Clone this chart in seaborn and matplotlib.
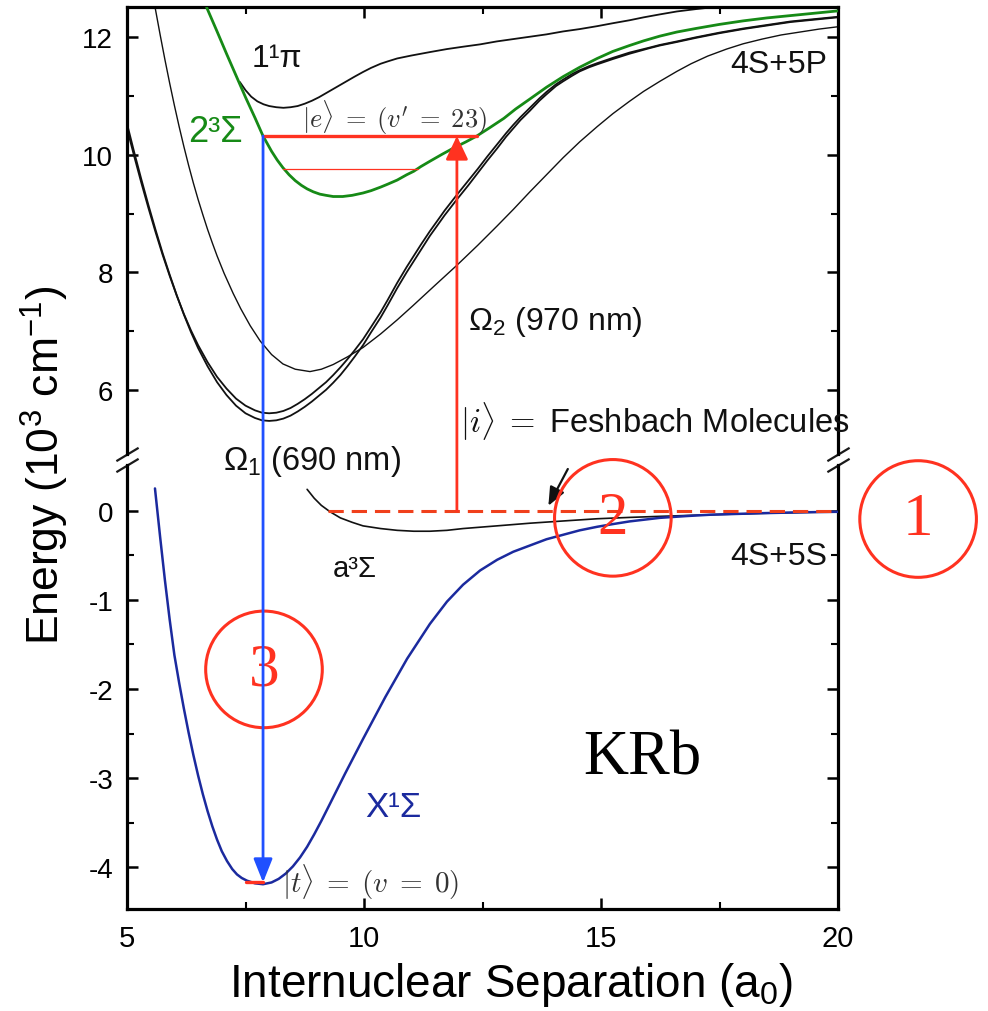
import matplotlib
matplotlib.use("Agg")
import matplotlib.pyplot as plt
from matplotlib.patches import ConnectionPatch
import seaborn as sns

# ---------------- potential curves (R in a0, energy in 10^3 cm^-1) ----------------
# upper panel: excited-state potentials
r_pi = [7.38, 7.50, 7.62, 7.75, 7.88, 8.00, 8.15, 8.30, 8.45, 8.60, 8.75, 8.90, 9.05, 9.20,
        9.35, 9.50, 9.65, 9.80, 9.98, 10.15, 10.35, 10.50, 10.70, 11.00, 11.40, 11.75, 12.09,
        12.45, 12.80, 13.15, 13.50, 13.85, 14.20, 14.55, 14.92, 15.25, 15.60, 15.90, 16.24,
        16.60, 17.00, 17.45, 18.00]
e_pi = [11.24, 11.10, 10.99, 10.91, 10.86, 10.83, 10.81, 10.80, 10.81, 10.83, 10.87, 10.92, 10.98, 11.05,
        11.12, 11.19, 11.26, 11.33, 11.41, 11.48, 11.55, 11.59, 11.64, 11.69, 11.75, 11.80, 11.84,
        11.88, 11.93, 11.97, 12.01, 12.05, 12.10, 12.14, 12.19, 12.24, 12.29, 12.34, 12.39,
        12.44, 12.48, 12.52, 12.56]

r_sig23 = [6.68, 6.90, 7.10, 7.30, 7.50, 7.70, 7.87, 8.05, 8.17, 8.29, 8.42, 8.55, 8.68, 8.80,
           8.93, 9.07, 9.20, 9.35, 9.55, 9.75, 9.98, 10.15, 10.35, 10.50, 10.70, 10.90, 11.05,
           11.20, 11.39, 11.65, 11.90, 12.15, 12.38, 12.65, 12.95, 13.20, 13.50, 13.85, 14.20,
           14.55, 14.92, 15.25, 15.60, 15.90, 16.24, 16.60, 17.00, 17.50, 18.00, 18.50, 19.00,
           19.50, 20.00]
e_sig23 = [12.51, 12.10, 11.72, 11.35, 10.98, 10.63, 10.32, 10.06, 9.91, 9.78, 9.66, 9.56, 9.48, 9.42,
           9.37, 9.33, 9.31, 9.29, 9.29, 9.31, 9.35, 9.39, 9.45, 9.50, 9.57, 9.66, 9.72,
           9.80, 9.89, 10.01, 10.12, 10.22, 10.32, 10.46, 10.62, 10.78, 10.95, 11.15, 11.33,
           11.49, 11.64, 11.76, 11.86, 11.94, 12.02, 12.09, 12.15, 12.22, 12.28, 12.33, 12.37,
           12.41, 12.45]

r_thin = [5.55, 5.59, 5.70, 5.80, 5.90, 6.00, 6.10, 6.20, 6.30, 6.40, 6.50, 6.60, 6.70, 6.80,
          6.90, 7.05, 7.24, 7.40, 7.60, 7.81, 8.05, 8.29, 8.55, 8.86, 9.10, 9.35, 9.65, 9.98,
          10.35, 10.70, 11.03, 11.50, 11.96, 12.40, 12.81, 13.15, 13.50, 13.85, 14.20, 14.55,
          14.92, 15.25, 15.60, 15.90, 16.24, 16.60, 16.90, 17.25, 17.65, 18.00, 18.40, 18.80,
          19.20, 19.60, 20.00]
e_thin = [12.70, 12.52, 12.04, 11.62, 11.22, 10.84, 10.48, 10.14, 9.82, 9.52, 9.24, 8.98, 8.73, 8.50,
          8.28, 7.98, 7.64, 7.38, 7.09, 6.83, 6.60, 6.44, 6.35, 6.31, 6.35, 6.43, 6.56, 6.72,
          6.95, 7.19, 7.43, 7.78, 8.12, 8.46, 8.79, 9.07, 9.37, 9.66, 9.95, 10.22,
          10.48, 10.70, 10.91, 11.08, 11.25, 11.42, 11.55, 11.68, 11.80, 11.89, 11.97, 12.04,
          12.09, 12.14, 12.18]

r_pair = [5.00, 5.15, 5.30, 5.45, 5.60, 5.75, 5.90, 6.05, 6.20, 6.35, 6.50, 6.70, 6.90, 7.10,
          7.30, 7.50, 7.70, 7.85, 8.00, 8.15, 8.30, 8.45, 8.60, 8.75, 8.90, 9.05, 9.20, 9.35,
          9.50, 9.65, 9.80, 9.98, 10.15, 10.35, 10.50, 10.70, 10.90, 11.05, 11.20, 11.39, 11.55,
          11.70, 11.96, 12.20, 12.40, 12.60, 12.81, 13.00, 13.15, 13.30, 13.50, 13.70, 13.85,
          14.05, 14.20, 14.40, 14.55, 14.75, 14.92, 15.25, 15.60, 16.00, 16.24, 16.60, 17.00,
          17.50, 18.00, 18.50, 19.00, 19.50, 20.00]
e_pair_a = [10.45, 9.98, 9.53, 9.10, 8.69, 8.30, 7.94, 7.60, 7.29, 7.01, 6.76, 6.47, 6.22, 6.02,
            5.85, 5.73, 5.65, 5.61, 5.60, 5.61, 5.64, 5.69, 5.76, 5.84, 5.93, 6.03, 6.13, 6.25,
            6.38, 6.52, 6.67, 6.86, 7.07, 7.32, 7.53, 7.82, 8.09, 8.28, 8.47, 8.70, 8.88,
            9.05, 9.32, 9.56, 9.76, 9.97, 10.18, 10.37, 10.51, 10.64, 10.80, 10.96, 11.07,
            11.20, 11.28, 11.38, 11.44, 11.51, 11.56, 11.65, 11.74, 11.82, 11.87, 11.93, 12.00,
            12.08, 12.15, 12.21, 12.27, 12.31, 12.35]
e_pair_b = [10.53, 10.05, 9.59, 9.15, 8.73, 8.33, 7.96, 7.61, 7.28, 6.98, 6.71, 6.40, 6.13, 5.91,
            5.73, 5.60, 5.52, 5.48, 5.47, 5.48, 5.51, 5.56, 5.63, 5.71, 5.80, 5.90, 6.00, 6.12,
            6.25, 6.40, 6.56, 6.76, 6.98, 7.23, 7.44, 7.73, 8.00, 8.19, 8.38, 8.62, 8.80,
            8.97, 9.24, 9.48, 9.69, 9.90, 10.11, 10.31, 10.45, 10.59, 10.75, 10.92, 11.03,
            11.17, 11.25, 11.35, 11.42, 11.49, 11.54, 11.63, 11.72, 11.81, 11.86, 11.92, 11.99,
            12.07, 12.14, 12.20, 12.26, 12.30, 12.34]

# lower panel: ground-state potentials
r_x = [5.59, 5.70, 5.80, 5.90, 6.00, 6.10, 6.20, 6.30, 6.40, 6.50, 6.60, 6.70, 6.80, 6.90,
       7.00, 7.11, 7.22, 7.32, 7.42, 7.53, 7.70, 7.87, 8.05, 8.20, 8.35, 8.50, 8.65, 8.80,
       8.95, 9.10, 9.28, 9.60, 9.98, 10.45, 10.91, 11.39, 11.75, 12.09, 12.45, 12.81, 13.15,
       13.50, 13.85, 14.20, 14.55, 14.92, 15.25, 15.60, 16.24, 16.80, 17.30, 18.35, 19.20, 20.00]
e_x = [0.25, -0.30, -0.78, -1.22, -1.62, -1.93, -2.22, -2.49, -2.74, -2.97, -3.18, -3.37, -3.54, -3.69,
       -3.82, -3.93, -4.02, -4.08, -4.12, -4.15, -4.18, -4.19, -4.17, -4.13, -4.07, -3.99, -3.89, -3.77,
       -3.63, -3.48, -3.29, -2.95, -2.56, -2.09, -1.66, -1.27, -1.02, -0.83, -0.67, -0.55, -0.46,
       -0.39, -0.32, -0.27, -0.22, -0.18, -0.15, -0.12, -0.08, -0.06, -0.045, -0.028, -0.018, -0.012]

r_a = [8.80, 8.95, 9.10, 9.28, 9.50, 9.75, 9.98, 10.35, 10.70, 11.05, 11.39, 11.75, 12.09, 12.80,
       13.50, 14.20, 14.92, 15.60, 16.24, 17.30, 18.35, 19.20, 20.00]
e_a = [0.24, 0.14, 0.06, -0.01, -0.08, -0.13, -0.17, -0.20, -0.22, -0.23, -0.23, -0.22, -0.20, -0.17,
       -0.14, -0.115, -0.09, -0.075, -0.063, -0.045, -0.03, -0.02, -0.012]

# ---------------- levels and transitions ----------------
e_excited = 10.32            # |e> = (v' = 23)
r_excited = [7.87, 12.38]
e_lower_vib = 9.76           # neighbouring vibrational level
r_lower_vib = [8.29, 11.14]
e_feshbach = 0.0             # |i> Feshbach molecules
r_feshbach = [9.24, 20.0]
e_ground = -4.17             # |t> = (v = 0)
r_ground = [7.50, 7.87]
r_omega1 = 7.87              # 690 nm leg
r_omega2 = 11.96             # 970 nm leg

upper_ticks = [6, 8, 10, 12]
upper_minor = [7, 9, 11]
lower_ticks = [0, -1, -2, -3, -4]
lower_minor = [-0.5, -1.5, -2.5, -3.5]
x_ticks = [5, 10, 15, 20]
x_minor = [7.5, 12.5, 17.5]

# ---------------- style ----------------
sns.set_theme(style="ticks")
plt.rcParams["font.family"] = ["Liberation Sans", "DejaVu Sans"]
plt.rcParams["mathtext.fontset"] = "custom"
plt.rcParams["mathtext.rm"] = "Liberation Sans"
plt.rcParams["mathtext.it"] = "Liberation Sans:italic"
plt.rcParams["mathtext.bf"] = "Liberation Sans:bold"
plt.rcParams["mathtext.sf"] = "Liberation Sans"
plt.rcParams["axes.unicode_minus"] = False
for key in ("text.color", "axes.labelcolor", "xtick.color", "ytick.color",
            "xtick.labelcolor", "ytick.labelcolor"):
    plt.rcParams[key] = "black"

BLACK = "#111111"
GREEN = "#168a16"
NAVY = "#1b2a9e"
BLUE = "#2050ff"
RED = "#ff3220"
DASHRED = "#f0401c"
GREY = "#333333"

W, H = 988, 1012
fig = plt.figure(figsize=(W / 100, H / 100), dpi=100)
left, right = 127 / W, 838 / W
ax_top = fig.add_axes([left, 1 - 455 / H, right - left, (455 - 8) / H])
ax_bot = fig.add_axes([left, 1 - 910 / H, right - left, (910 - 466) / H])

ax_top.set_xlim(5, 20)
ax_bot.set_xlim(5, 20)
ax_top.set_ylim(4.907, 12.516)
ax_bot.set_ylim(-4.468, 0.513)


def curve(ax, r, e, color, lw, z=2):
    sns.lineplot(x=r, y=e, ax=ax, color=color, linewidth=lw, sort=False,
                 estimator=None, zorder=z)


curve(ax_top, r_pair, e_pair_a, BLACK, 1.3)
curve(ax_top, r_pair, e_pair_b, BLACK, 1.3)
curve(ax_top, r_thin, e_thin, BLACK, 1.0)
curve(ax_top, r_pi, e_pi, BLACK, 1.3)
curve(ax_top, r_sig23, e_sig23, GREEN, 2.0, z=3)
curve(ax_bot, r_a, e_a, BLACK, 1.2)
curve(ax_bot, r_x, e_x, NAVY, 1.8, z=3)
for ax in (ax_top, ax_bot):
    for ln in ax.lines:
        ln.set_solid_joinstyle("round")

# vibrational levels
sns.lineplot(x=r_excited, y=[e_excited] * 2, ax=ax_top, color=RED, linewidth=2.4, zorder=4)
sns.lineplot(x=r_lower_vib, y=[e_lower_vib] * 2, ax=ax_top, color=RED, linewidth=0.9, zorder=4)
sns.lineplot(x=r_ground, y=[e_ground] * 2, ax=ax_bot, color=RED, linewidth=2.4, zorder=4)
feshbach = sns.lineplot(x=r_feshbach, y=[e_feshbach] * 2, ax=ax_bot, color=DASHRED,
                        linewidth=2.2, zorder=4)
feshbach.lines[-1].set_dashes((5, 2.6))

# transitions crossing the axis break
down = ConnectionPatch(xyA=(r_omega1, e_excited), coordsA=ax_top.transData,
                       xyB=(r_omega1, e_ground), coordsB=ax_bot.transData,
                       arrowstyle="-|>,head_length=0.8,head_width=0.32", mutation_scale=18,
                       color=BLUE, lw=2.0, shrinkA=0, shrinkB=0, zorder=5)
fig.add_artist(down)
up = ConnectionPatch(xyA=(r_omega2, e_feshbach), coordsA=ax_bot.transData,
                     xyB=(r_omega2, e_excited), coordsB=ax_top.transData,
                     arrowstyle="-|>,head_length=0.8,head_width=0.38", mutation_scale=18,
                     color=RED, lw=2.0, shrinkA=0, shrinkB=0, zorder=5)
fig.add_artist(up)

# pointer to the Feshbach level
ax_bot.annotate("", xy=(13.89, 0.056), xytext=(14.30, 0.468),
                arrowprops=dict(arrowstyle="-|>,head_length=0.7,head_width=0.3",
                                mutation_scale=16, color=BLACK, lw=1.6, shrinkA=0, shrinkB=0))

# ---------------- axes decoration ----------------
for ax in (ax_top, ax_bot):
    for s in ax.spines.values():
        s.set_linewidth(2.3)
        s.set_color("black")
    ax.set_xticks(x_ticks)
    ax.set_xticks(x_minor, minor=True)
    ax.tick_params(which="both", direction="in", left=True, right=True, color="black")
    ax.tick_params(which="major", length=8, width=1.8)
    ax.tick_params(which="minor", length=5, width=1.5)
    ax.set_xlabel("")
    ax.set_ylabel("")

ax_top.spines["bottom"].set_visible(False)
ax_bot.spines["top"].set_visible(False)
ax_top.tick_params(which="both", bottom=False, labelbottom=False, top=True)
ax_bot.tick_params(which="both", top=False)

ax_top.set_yticks(upper_ticks)
ax_top.set_yticks(upper_minor, minor=True)
ax_bot.set_yticks(lower_ticks)
ax_bot.set_yticks(lower_minor, minor=True)
ax_top.tick_params(axis="y", labelsize=20, pad=10)
ax_bot.tick_params(axis="y", labelsize=20, pad=10)
ax_bot.tick_params(axis="x", labelsize=21, pad=11)

# break marks
brk = dict(marker=[(-1, -0.6), (1, 0.6)], markersize=16, linestyle="none",
           color="k", mec="k", mew=1.6, clip_on=False)
ax_top.plot([0, 1], [0, 0], transform=ax_top.transAxes, **brk)
ax_bot.plot([0, 1], [1, 1], transform=ax_bot.transAxes, **brk)

fig.text(45 / W, 1 - 465 / H, r"Energy (10$^{3}$ cm$^{-1}$)", rotation=90,
         ha="center", va="center", fontsize=32)
fig.text(511 / W, 1 - 997 / H, r"Internuclear Separation (a$_{0}$)",
         ha="center", va="baseline", fontsize=33)

# ---------------- state labels ----------------
ax_top.text(7.62, 11.51, "1¹π", fontsize=23, color=BLACK, va="baseline")
ax_top.text(6.29, 10.24, "2³Σ", fontsize=26, color=GREEN, va="baseline")
ax_top.text(8.69, 10.47, r"$|e\rangle \;=\; (v^{\prime} \;=\; 23)$", math_fontfamily="cm",
            fontsize=19, color=GREY, va="baseline")
ax_top.text(19.77, 11.41, "4S+5P", fontsize=23, color=BLACK, ha="right", va="baseline")
ax_top.text(12.19, 7.04, r"$\Omega_{2}$ (970 nm)", fontsize=23, color=BLACK, va="baseline")
ax_top.text(12.03, 5.28, r"$|i\rangle\;=$ Feshbach Molecules", math_fontfamily="cm",
            fontsize=23.5, color=BLACK, va="baseline", clip_on=False)
ax_bot.text(7.03, 0.47, r"$\Omega_{1}$ (690 nm)", fontsize=23.5, color=BLACK, va="baseline")
ax_bot.text(9.35, -0.73, "a³Σ", fontsize=21, color=BLACK, va="baseline")
ax_bot.text(19.77, -0.60, "4S+5S", fontsize=23, color=BLACK, ha="right", va="baseline")
ax_bot.text(10.02, -3.42, "X¹Σ", fontsize=25, color=NAVY, va="baseline")
ax_bot.text(8.27, -4.28, r"$|t\rangle \;=\; (v \;=\; 0)$", math_fontfamily="cm",
            fontsize=21, color=GREY, va="baseline")
ax_bot.text(14.62, -2.95, "KRb", fontsize=45, color="black", va="baseline",
            family="Liberation Serif")

# numbered steps
steps = [("1", 21.69, -0.093), ("2", 15.25, -0.08), ("3", 7.89, -1.78)]
for label, sx, sy in steps:
    ax_bot.text(sx, sy, label, fontsize=44, color=RED, family="Liberation Serif",
                ha="center", va="center", clip_on=False, zorder=6,
                bbox=dict(boxstyle="circle,pad=0.5", fc="none", ec=RED, lw=2.2))

fig.savefig("out.png", dpi=100)
